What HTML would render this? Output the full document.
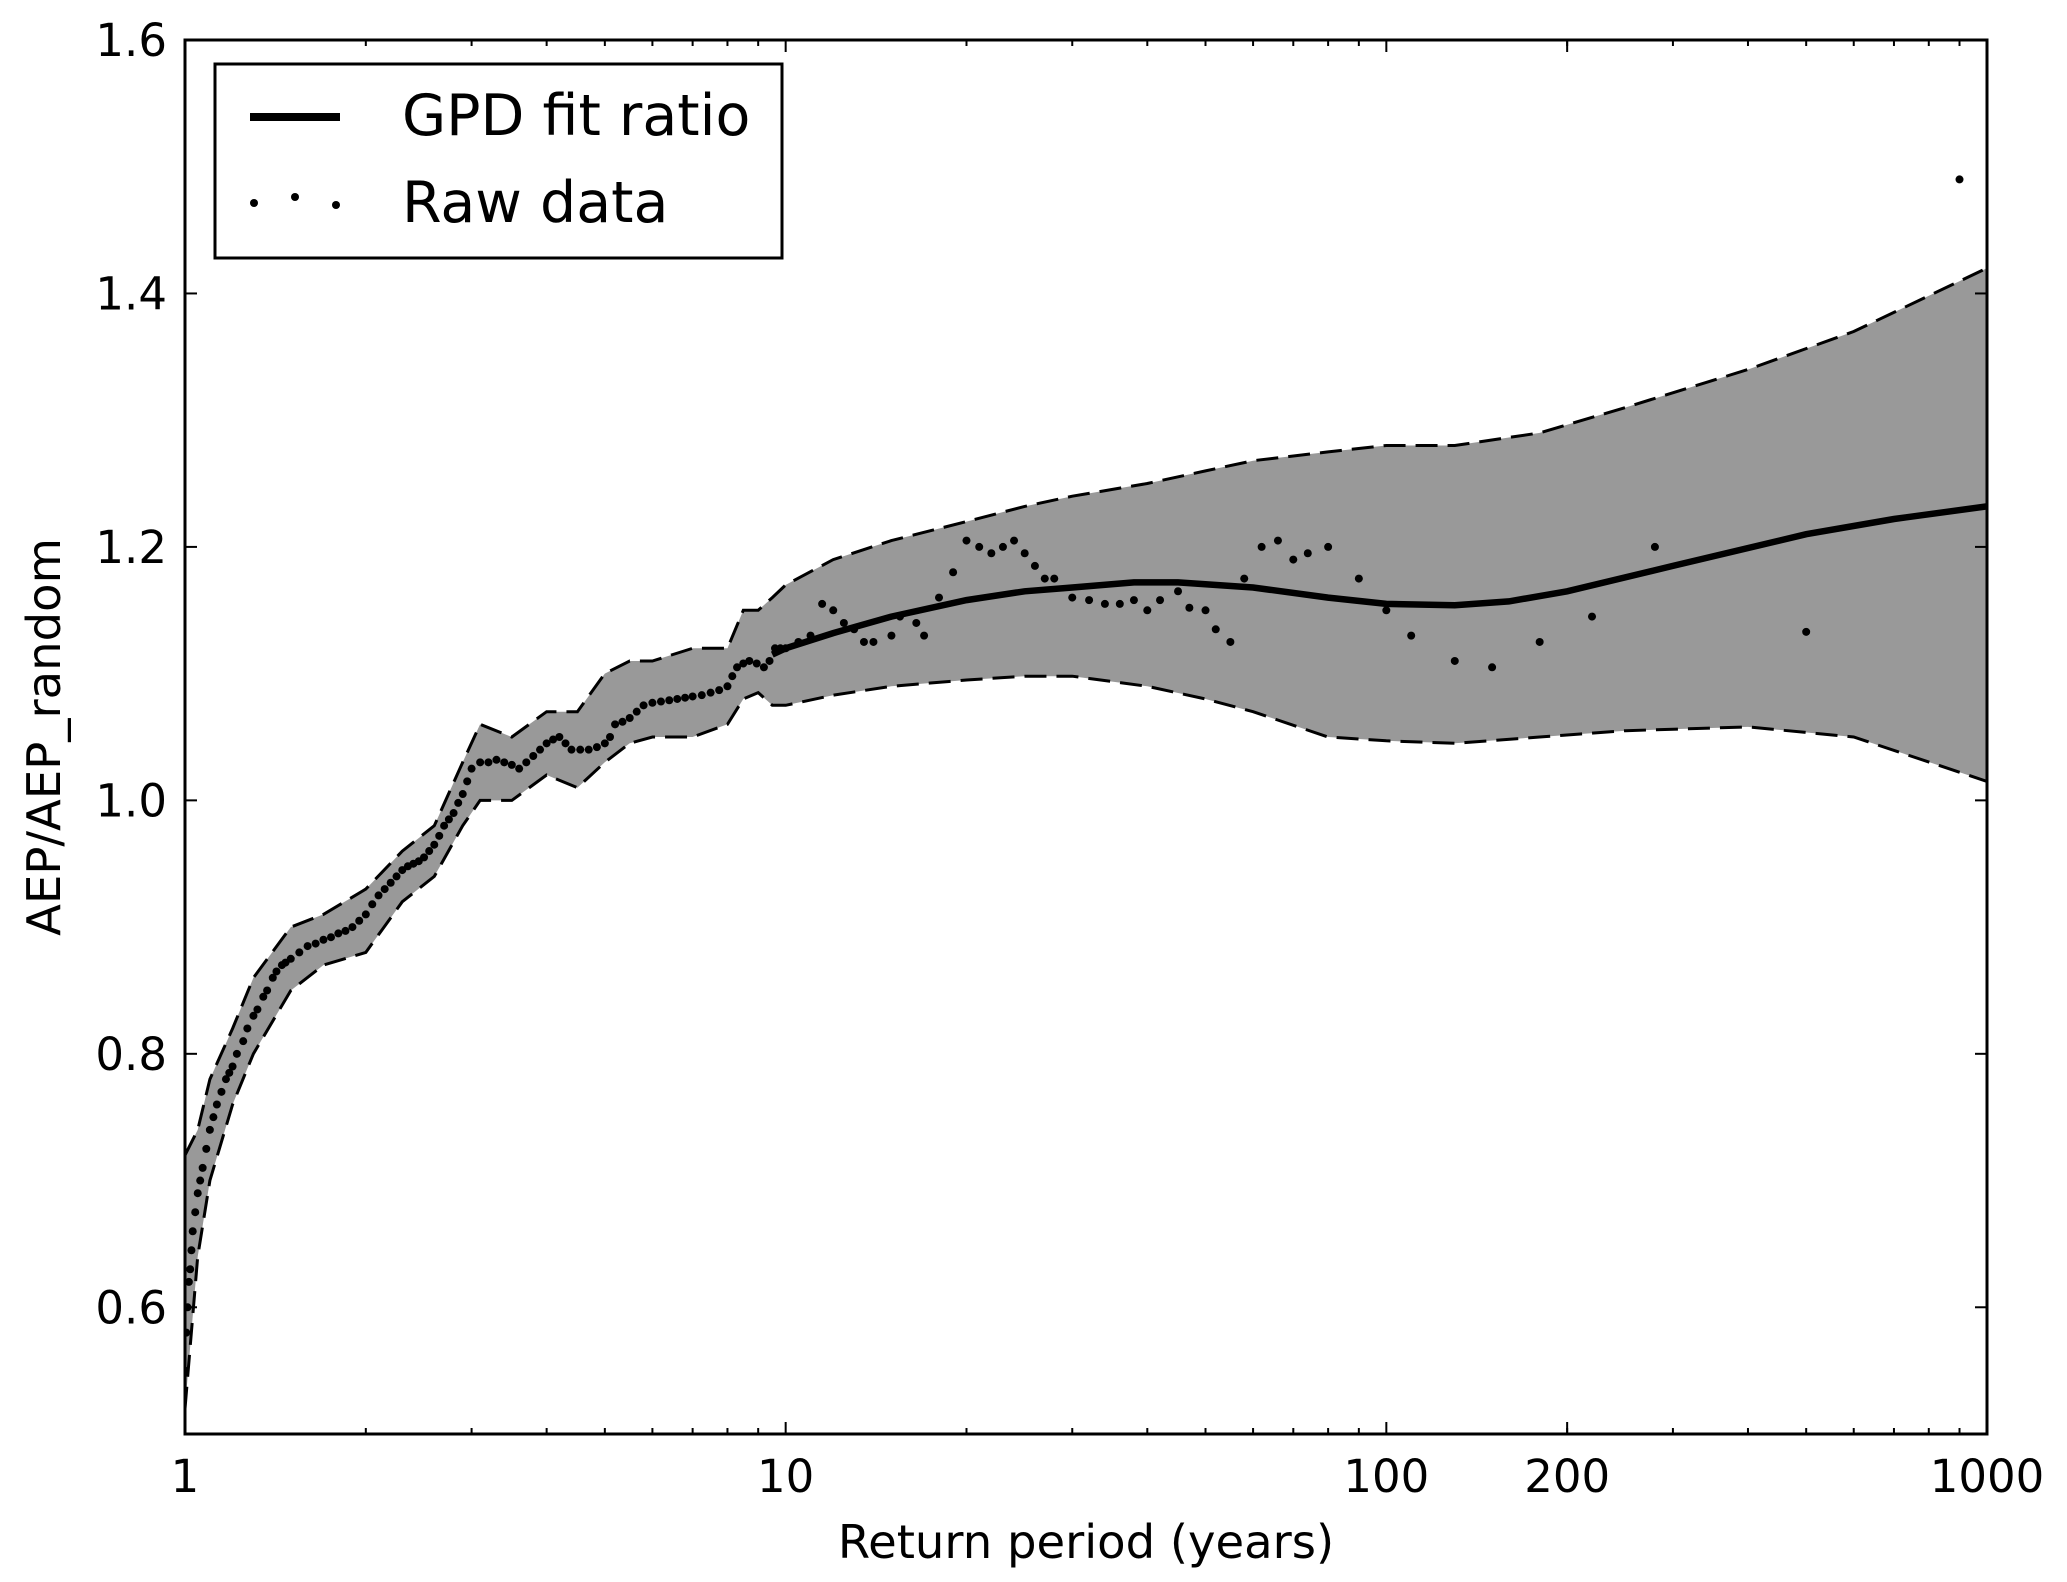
<!DOCTYPE html>
<html><head><meta charset="utf-8"><style>
html,body{margin:0;padding:0;background:#fff}
svg{display:block;font-family:"DejaVu Sans","Liberation Sans",sans-serif}
</style></head><body>
<svg id="chart" width="2067" height="1582" viewBox="0 0 2067 1582" xmlns="http://www.w3.org/2000/svg"></svg>
<script>
const rawX=[1.0,1.005,1.01,1.015,1.02,1.025,1.03,1.04,1.05,1.06,1.07,1.085,1.1,1.115,1.13,1.15,1.17,1.185,1.2,1.22,1.25,1.27,1.3,1.32,1.35,1.37,1.4,1.42,1.45,1.47,1.5,1.55,1.6,1.65,1.7,1.75,1.8,1.85,1.9,1.95,2.0,2.05,2.1,2.15,2.2,2.25,2.3,2.35,2.4,2.45,2.5,2.55,2.6,2.65,2.7,2.75,2.8,2.85,2.9,2.95,3.0,3.1,3.2,3.3,3.4,3.5,3.6,3.7,3.8,3.9,4.0,4.1,4.2,4.3,4.4,4.55,4.7,4.85,5.0,5.1,5.2,5.35,5.5,5.65,5.8,6.0,6.2,6.4,6.6,6.8,7.0,7.25,7.5,7.75,8.0,8.15,8.3,8.5,8.7,8.95,9.2,9.4,9.6,9.8,10,10.5,11,11.5,12,12.5,13,13.5,14,15,15.5,16.5,17,18,19,20,21,22,23,24,25,26,27,28,30,32,34,36,38,40,42,45,47,50,52,55,58,62,66,70,74,80,90,100,110,130,150,180,220,280,500,900];
const rawY=[0.55,0.58,0.6,0.62,0.63,0.645,0.66,0.675,0.69,0.7,0.71,0.725,0.74,0.75,0.76,0.77,0.78,0.785,0.79,0.8,0.81,0.82,0.83,0.835,0.845,0.85,0.86,0.865,0.87,0.872,0.875,0.88,0.885,0.887,0.89,0.892,0.895,0.897,0.9,0.905,0.91,0.918,0.925,0.93,0.935,0.94,0.945,0.948,0.95,0.952,0.955,0.96,0.965,0.972,0.98,0.985,0.99,0.998,1.005,1.015,1.025,1.03,1.03,1.032,1.03,1.028,1.025,1.03,1.035,1.04,1.045,1.048,1.05,1.045,1.04,1.04,1.04,1.042,1.045,1.05,1.06,1.062,1.065,1.07,1.075,1.077,1.078,1.079,1.08,1.081,1.082,1.083,1.085,1.087,1.09,1.098,1.105,1.108,1.11,1.108,1.105,1.11,1.12,1.12,1.12,1.125,1.13,1.155,1.15,1.14,1.135,1.125,1.125,1.13,1.145,1.14,1.13,1.16,1.18,1.205,1.2,1.195,1.2,1.205,1.195,1.185,1.175,1.175,1.16,1.158,1.155,1.155,1.158,1.15,1.158,1.165,1.152,1.15,1.135,1.125,1.175,1.2,1.205,1.19,1.195,1.2,1.175,1.15,1.13,1.11,1.105,1.125,1.145,1.2,1.133,1.49];
const fitX=[9.5,10,12,15,20,25,30,38,45,60,80,100,130,160,200,300,500,700,1000];
const fitY=[1.115,1.12,1.132,1.145,1.158,1.165,1.168,1.172,1.172,1.168,1.16,1.155,1.154,1.157,1.165,1.185,1.21,1.222,1.232];
const bandX=[1,1.05,1.1,1.2,1.3,1.5,1.7,2,2.3,2.6,2.9,3.1,3.5,4,4.5,5,5.5,6,7,8,8.5,9,9.5,10,12,15,20,25,30,40,50,60,80,100,130,180,250,400,600,1000];
const bandUp=[0.72,0.74,0.78,0.82,0.86,0.9,0.91,0.93,0.96,0.98,1.03,1.06,1.05,1.07,1.07,1.1,1.11,1.11,1.12,1.12,1.15,1.15,1.16,1.17,1.19,1.205,1.22,1.232,1.24,1.25,1.26,1.268,1.275,1.28,1.28,1.29,1.31,1.34,1.37,1.42];
const bandLo=[0.52,0.64,0.7,0.76,0.8,0.85,0.87,0.88,0.92,0.94,0.98,1.0,1.0,1.02,1.01,1.03,1.045,1.05,1.05,1.06,1.08,1.085,1.075,1.075,1.083,1.09,1.095,1.098,1.098,1.09,1.08,1.07,1.05,1.047,1.045,1.05,1.055,1.058,1.05,1.015];
const yTicks=[0.6,0.8,1.0,1.2,1.4,1.6];
const xTicks=[1,10,100,200,1000];

const L=185,R=1987,T=40,B=1434,Y0=0.5,Y1=1.6;
const sx=v=>L+(Math.log10(v)/3)*(R-L);
const sy=v=>B-(v-Y0)/(Y1-Y0)*(B-T);
const svg=document.getElementById('chart');
const NS='http://www.w3.org/2000/svg';
function mk(tag,attrs,parent){const e=document.createElementNS(NS,tag);for(const k in attrs)e.setAttribute(k,attrs[k]);(parent||svg).appendChild(e);return e;}

const defs=mk('defs',{});
const cp=mk('clipPath',{id:'clip'},defs);
mk('rect',{x:L,y:T,width:R-L,height:B-T},cp);
const g=mk('g',{'clip-path':'url(#clip)'});

let d='';
bandX.forEach((x,i)=>{d+=(i?'L':'M')+sx(x).toFixed(1)+','+sy(bandUp[i]).toFixed(1);});
for(let i=bandX.length-1;i>=0;i--)d+='L'+sx(bandX[i]).toFixed(1)+','+sy(bandLo[i]).toFixed(1);
const band=mk('path',{d:d+'Z',fill:'#999999',stroke:'none'},g);



function line(xs,ys,attrs,name){let p='';xs.forEach((x,i)=>{p+=(i?'L':'M')+sx(x).toFixed(1)+','+sy(ys[i]).toFixed(1);});const e=mk('path',Object.assign({d:p,fill:'none'},attrs),g);return e;}
line(bandX,bandUp,{stroke:'#000','stroke-width':3,'stroke-dasharray':'22 10'},'upper-bound-line');
line(bandX,bandLo,{stroke:'#000','stroke-width':3,'stroke-dasharray':'22 10'},'lower-bound-line');
line(fitX,fitY,{stroke:'#000','stroke-width':6.5},'gpd-fit-line');

rawX.forEach((x,i)=>{
  const c=mk('circle',{cx:sx(x),cy:sy(rawY[i]),r:4,fill:'#000'},g);
  
  
});

const fr=mk('rect',{x:L,y:T,width:R-L,height:B-T,fill:'none',stroke:'#000','stroke-width':3});



yTicks.forEach(v=>{
  const y=sy(v);
  mk('line',{x1:L,x2:L+12,y1:y,y2:y,stroke:'#000','stroke-width':2});
  mk('line',{x1:R,x2:R-12,y1:y,y2:y,stroke:'#000','stroke-width':2});
  const t=mk('text',{x:L-18,y:y+16,'text-anchor':'end','font-size':45,fill:'#000'});
  t.textContent=v.toFixed(1);
  
  
});
for(let dec=1;dec<1000;dec*=10){for(let k=2;k<=9;k++){const x=sx(dec*k);
  mk('line',{x1:x,x2:x,y1:B,y2:B-6,stroke:'#000','stroke-width':2});
  mk('line',{x1:x,x2:x,y1:T,y2:T+6,stroke:'#000','stroke-width':2});}}
xTicks.forEach(v=>{
  const x=sx(v);
  mk('line',{x1:x,x2:x,y1:B,y2:B-12,stroke:'#000','stroke-width':2});
  mk('line',{x1:x,x2:x,y1:T,y2:T+12,stroke:'#000','stroke-width':2});
  const t=mk('text',{x:x,y:B+58,'text-anchor':'middle','font-size':45,fill:'#000'});
  t.textContent=String(v);
  
  
});
const xt=mk('text',{x:(L+R)/2,y:1558,'text-anchor':'middle','font-size':46.5,fill:'#000'});
xt.textContent='Return period (years)';


const yt=mk('text',{x:0,y:0,'text-anchor':'middle','font-size':46.5,fill:'#000',transform:'translate(60,'+((T+B)/2)+') rotate(-90)'});
yt.textContent='AEP/AEP_random';



const lg=mk('g',{});


mk('rect',{x:215,y:64,width:567,height:194,fill:'#fff',stroke:'#000','stroke-width':3},lg);
mk('line',{x1:250,x2:340,y1:117,y2:117,stroke:'#000','stroke-width':8},lg);
const l1=mk('text',{x:402,y:135,'font-size':57,fill:'#000'},lg);
l1.textContent='GPD fit ratio';


[254,295,336].forEach((x,i)=>mk('circle',{cx:x,cy:205+(i===0?-2:i===1?-8:0),r:4,fill:'#000'},lg));
const l2=mk('text',{x:402,y:222,'font-size':57,fill:'#000'},lg);
l2.textContent='Raw data';


</script>
</body></html>
